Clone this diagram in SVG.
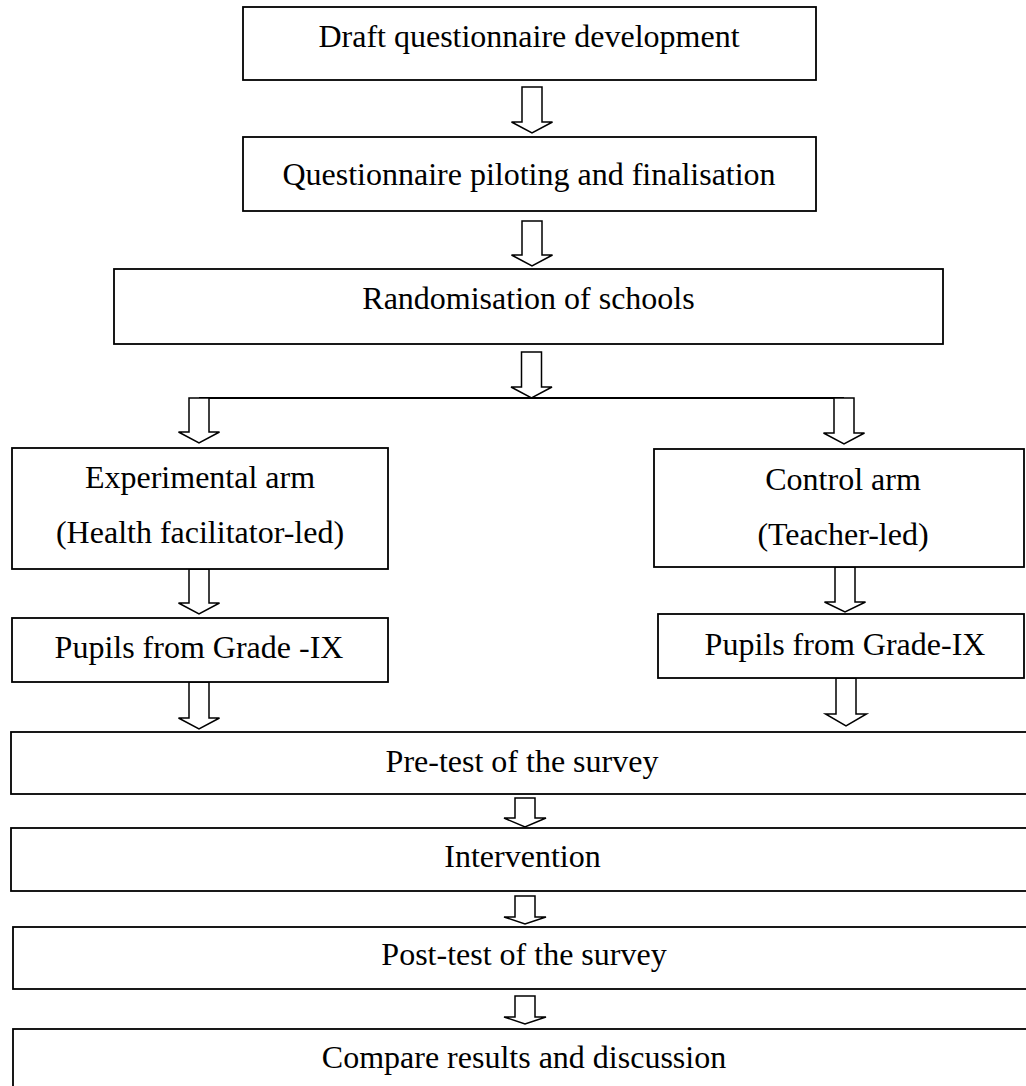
<svg xmlns="http://www.w3.org/2000/svg" width="1026" height="1086" viewBox="0 0 1026 1086">
<style>
.box{fill:#fff;stroke:#000;stroke-width:1.8}
.arr{fill:#fff;stroke:#000;stroke-width:1.5;stroke-linejoin:miter}
.ln{stroke:#000;stroke-width:1.8;fill:none}
text{font-family:"Liberation Serif","Times New Roman",serif;font-size:32px;fill:#000;text-anchor:middle}
</style>
<rect width="1026" height="1086" fill="#fff"/>
<g id="connectors">
<path class="arr" d="M522 87 L542 87 L542 122 L552.5 122 L532 133 L511.5 122 L522 122 Z"/>
<path class="arr" d="M522 221 L542 221 L542 255 L552.5 255 L532 266 L511.5 255 L522 255 Z"/>
<path class="arr" d="M521.5 352 L541.5 352 L541.5 387 L552 387 L531.5 398 L511 387 L521.5 387 Z"/>
<line class="ln" x1="199" y1="398" x2="844" y2="398"/>
<path class="arr" d="M189 398 L209 398 L209 432 L219.5 432 L199 443 L178.5 432 L189 432 Z"/>
<path class="arr" d="M834 398 L854 398 L854 433 L864.5 433 L844 444 L823.5 433 L834 433 Z"/>
<path class="arr" d="M189 569 L209 569 L209 603 L219.5 603 L199 614 L178.5 603 L189 603 Z"/>
<path class="arr" d="M835 567 L855 567 L855 602 L865.5 602 L845 612 L824.5 602 L835 602 Z"/>
<path class="arr" d="M189 682 L209 682 L209 718 L219.5 718 L199 729 L178.5 718 L189 718 Z"/>
<path class="arr" d="M836 678 L856 678 L856 714 L866.5 714 L846 726 L825.5 714 L836 714 Z"/>
<path class="arr" d="M515 798 L535 798 L535 818 L546 818 L525 827 L504 818 L515 818 Z"/>
<path class="arr" d="M515 896 L535 896 L535 917 L546 917 L525 924 L504 917 L515 917 Z"/>
<path class="arr" d="M515 996 L535 996 L535 1017 L546 1017 L525 1024 L504 1017 L515 1017 Z"/>
</g>
<g id="n1"><rect class="box" x="243" y="7" width="573" height="73"/><text x="529" y="47">Draft questionnaire development</text></g>
<g id="n2"><rect class="box" x="243" y="137" width="573" height="74"/><text x="529" y="185">Questionnaire piloting and finalisation</text></g>
<g id="n3"><rect class="box" x="114" y="269" width="829" height="75"/><text x="528.5" y="309">Randomisation of schools</text></g>
<g id="n4"><rect class="box" x="12" y="448" width="376" height="121"/><text x="200" y="488">Experimental arm</text><text x="200" y="543">(Health facilitator-led)</text></g>
<g id="n5"><rect class="box" x="654" y="449" width="370" height="118"/><text x="843" y="490">Control arm</text><text x="843" y="545">(Teacher-led)</text></g>
<g id="n6"><rect class="box" x="12" y="618" width="376" height="64"/><text x="199" y="658">Pupils from Grade -IX</text></g>
<g id="n7"><rect class="box" x="658" y="614" width="366" height="64"/><text x="845" y="655">Pupils from Grade-IX</text></g>
<g id="n8"><rect class="box" x="11" y="732" width="1020" height="62"/><text x="522" y="772">Pre-test of the survey</text></g>
<g id="n9"><rect class="box" x="11" y="828" width="1020" height="63"/><text x="522.5" y="867">Intervention</text></g>
<g id="n10"><rect class="box" x="13" y="927" width="1018" height="62"/><text x="524" y="965">Post-test of the survey</text></g>
<g id="n11"><rect class="box" x="13" y="1029" width="1018" height="62"/><text x="524" y="1068">Compare results and discussion</text></g>
</svg>
